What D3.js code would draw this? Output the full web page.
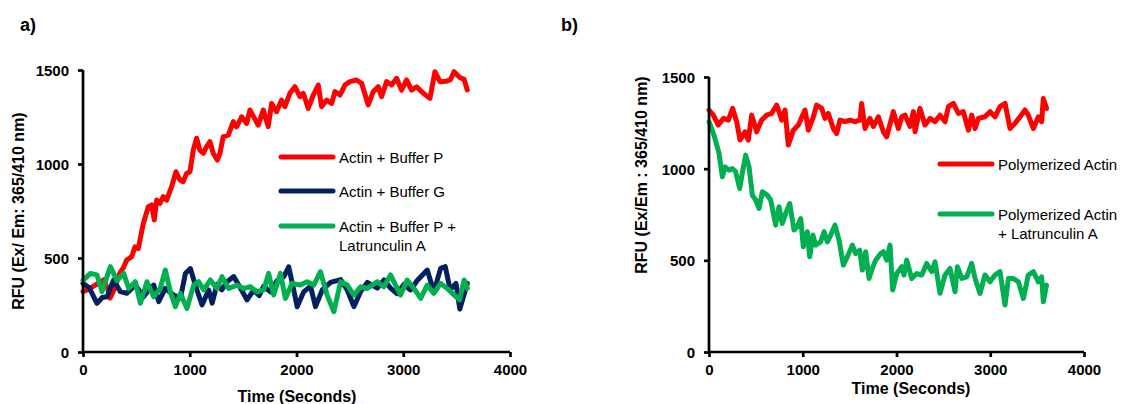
<!DOCTYPE html>
<html>
<head>
<meta charset="utf-8">
<script src="https://cdn.jsdelivr.net/npm/d3@7/dist/d3.min.js"></script>
<style>
  html, body { margin: 0; padding: 0; background: #fff; }
  svg { display: block; font-family: "Liberation Sans", Arial, sans-serif; }
</style>
</head>
<body>
<svg id="chart" width="1126" height="404"></svg>
<script>
// ---------- DATA ----------
const xTicks = [0, 1000, 2000, 3000, 4000];
const yTicks = [0, 500, 1000, 1500];

// Panel a) Actin + Buffer P
const aRedT = [0,40,100,190,230,253,290,346,380,409,456,487,518,565,612,643,668,690,721,752,783,830,871,908,939,970,1002,1033,1064,1095,1127,1158,1189,1220,1258,1283,1314,1361,1408,1439,1486,1533,1564,1641,1689,1735,1767,1813,1860,1891,1938,1985,2032,2063,2110,2157,2204,2235,2282,2329,2360,2407,2454,2500,2563,2610,2672,2719,2766,2797,2844,2891,2938,2984,3031,3078,3125,3188,3250,3297,3344,3400,3440,3476,3530,3570,3600];
const aRedV = [321,330,350,383,340,287,330,420,450,489,507,559,550,684,773,782,702,808,791,826,808,879,959,915,906,950,959,1074,1137,1074,1057,1092,1119,1057,1021,1057,1145,1154,1225,1198,1251,1216,1287,1207,1287,1199,1322,1278,1340,1305,1376,1411,1358,1376,1296,1367,1420,1305,1340,1322,1385,1367,1420,1438,1447,1429,1314,1385,1411,1358,1438,1420,1456,1393,1447,1393,1411,1376,1349,1491,1438,1440,1447,1491,1460,1450,1394];

// Panel a) Actin + Buffer G
const aBlueT = [0,60,131,180,225,287,350,412,490,568,615,662,709,771,849,912,959,1006,1052,1115,1177,1210,1255,1300,1349,1412,1474,1537,1599,1650,1693,1755,1818,1880,1927,1974,2006,2068,2131,2178,2241,2319,2413,2475,2538,2600,2663,2757,2819,2881,2944,3006,3069,3131,3225,3287,3350,3394,3440,3494,3530,3600];
const aBlueV = [365,340,259,290,294,383,321,312,356,294,330,356,268,338,303,285,418,444,356,250,330,260,360,330,374,401,340,277,330,300,350,320,380,400,453,330,241,320,350,241,330,370,385,330,241,320,370,340,383,340,310,360,330,380,436,320,445,454,330,365,228,365];

// Panel a) Actin + Buffer P + Latrunculin A
const aGreenT = [0,69,131,178,256,319,381,428,490,537,599,662,724,771,818,865,912,974,1037,1084,1130,1193,1255,1302,1365,1443,1505,1568,1630,1693,1739,1786,1849,1896,1958,2037,2099,2162,2224,2287,2350,2413,2475,2538,2600,2663,2757,2819,2881,2928,2975,3037,3100,3163,3225,3287,3350,3412,3460,3527,3570,3600];
const aGreenV = [380,418,410,321,454,380,418,338,374,259,374,294,338,436,321,241,312,232,356,374,330,383,338,401,338,356,338,347,320,330,418,303,418,285,365,356,374,356,427,303,214,374,356,303,347,338,374,347,410,356,303,383,338,285,356,312,365,338,312,277,383,339];

// Panel b) Polymerized Actin
const bRedT = [0,46,99,153,206,252,295,331,384,419,455,508,562,615,668,722,775,811,846,900,953,1024,1060,1113,1148,1202,1237,1273,1326,1362,1397,1451,1504,1557,1611,1628,1664,1717,1753,1806,1860,1895,1966,2020,2056,2091,2144,2180,2198,2251,2304,2358,2411,2464,2518,2553,2607,2660,2713,2767,2802,2838,2873,2944,2998,3051,3104,3158,3211,3264,3318,3371,3406,3460,3513,3548,3566,3600];
const bRedV = [1320,1292,1238,1274,1265,1329,1256,1156,1201,1156,1292,1201,1265,1292,1301,1347,1265,1320,1129,1210,1238,1320,1210,1283,1347,1329,1274,1301,1219,1192,1265,1256,1265,1256,1265,1356,1219,1274,1230,1283,1201,1174,1311,1219,1283,1292,1230,1311,1201,1329,1238,1274,1256,1292,1256,1338,1356,1301,1311,1210,1292,1219,1274,1283,1311,1283,1338,1356,1219,1247,1283,1320,1292,1219,1283,1256,1383,1329];

// Panel b) Polymerized Actin + Latrunculin A
const bGreenT = [0,53,107,142,171,213,249,284,327,355,391,427,462,498,533,569,622,658,711,747,782,818,861,907,942,978,1006,1049,1074,1109,1138,1191,1227,1262,1298,1344,1387,1433,1476,1529,1564,1607,1636,1671,1707,1742,1778,1831,1860,1895,1931,1959,2002,2056,2080,2109,2162,2216,2269,2322,2376,2411,2464,2518,2571,2624,2649,2696,2749,2802,2838,2891,2944,2998,3051,3104,3158,3193,3246,3300,3353,3406,3460,3513,3548,3566,3600];
const bGreenV = [1256,1183,1083,956,1010,992,1001,983,892,974,1074,1010,856,829,783,874,856,829,692,792,701,756,810,665,683,728,574,656,519,638,583,601,656,601,638,692,610,474,520,583,537,556,447,547,401,456,501,537,547,501,583,338,428,465,420,501,401,428,420,483,438,492,320,420,456,329,465,401,410,483,401,320,420,383,420,438,256,401,401,383,292,420,438,383,410,274,365];

// ---------- LAYOUT ----------
const svg = d3.select("#chart");
const AXIS_W = 2.7;
const FONT = '"Liberation Sans", Arial, sans-serif';

function panel(cfg) {
  const x = d3.scaleLinear().domain([0, 4000]).range([cfg.x0, cfg.x1]);
  const y = d3.scaleLinear().domain([0, 1500]).range([cfg.y0, cfg.y1]);
  const g = svg.append("g");

  const line = d3.line().x(d => x(d[0])).y(d => y(d[1])).curve(d3.curveLinear);
  cfg.series.forEach(s => {
    const data = s.t.map((t, i) => [t, s.v[i]]);
    g.append("path").datum(data)
      .attr("d", line)
      .attr("fill", "none")
      .attr("stroke", s.color)
      .attr("stroke-width", 5)
      .attr("stroke-linejoin", "round")
      .attr("stroke-linecap", "round");
  });

  const xAxis = d3.axisBottom(x).tickValues(xTicks).tickSize(5).tickPadding(7).tickFormat(d3.format("d"));
  const yAxis = d3.axisLeft(y).tickValues(yTicks).tickSize(5).tickPadding(9).tickFormat(d3.format("d"));
  const gx = g.append("g").attr("transform", `translate(0,${cfg.y0})`).call(xAxis);
  const gy = g.append("g").attr("transform", `translate(${cfg.x0},0)`).call(yAxis);
  [gx, gy].forEach(ax => {
    ax.select(".domain").attr("stroke", "#000").attr("stroke-width", AXIS_W);
    ax.selectAll(".tick line").attr("stroke", "#000").attr("stroke-width", AXIS_W);
    ax.selectAll(".tick text").attr("fill", "#000")
      .style("font-size", "15px").style("font-weight", "bold")
      .style("font-family", FONT);
  });
  gx.select(".domain").attr("d", `M${cfg.x0},0H${cfg.x1}`);
  gy.select(".domain").attr("d", `M0,${cfg.y0}V${cfg.y1}`);
  gy.selectAll(".tick text").attr("dy", "0.36em");

  g.append("text").attr("x", cfg.labelX).attr("y", 31)
    .style("font-size", "18px").style("font-weight", "bold").text(cfg.label);
  g.append("text").attr("x", cfg.xTitleX).attr("y", cfg.xTitleY)
    .attr("text-anchor", "middle")
    .style("font-size", "16px").style("font-weight", "bold").text("Time (Seconds)");
  g.append("text")
    .attr("transform", `translate(${cfg.yTitleX},${cfg.yTitleY}) rotate(-90)`)
    .attr("text-anchor", "middle")
    .style("font-size", "16px").style("font-weight", "bold").text(cfg.yTitle);

  cfg.legend.forEach(l => {
    g.append("line").attr("x1", cfg.legX).attr("x2", cfg.legX + 52)
      .attr("y1", l.y).attr("y2", l.y)
      .attr("stroke", l.color).attr("stroke-width", 5).attr("stroke-linecap", "round");
    l.lines.forEach((txt, i) => {
      g.append("text").attr("x", cfg.legX + 58).attr("y", l.y + 5.5 + i * 19)
        .style("font-size", "15px").text(txt);
    });
  });
}

const RED = "#FF0000", NAVY = "#002060", GREEN = "#00B050";

panel({
  x0: 83, x1: 510, y0: 352, y1: 70,
  label: "a)", labelX: 20,
  xTitleX: 297, xTitleY: 402,
  yTitle: "RFU (Ex/ Em: 365/410 nm)", yTitleX: 24, yTitleY: 211,
  series: [
    { t: aRedT, v: aRedV, color: RED },
    { t: aBlueT, v: aBlueV, color: NAVY },
    { t: aGreenT, v: aGreenV, color: GREEN }
  ],
  legX: 281,
  legend: [
    { y: 157, color: RED, lines: ["Actin + Buffer P"] },
    { y: 191, color: NAVY, lines: ["Actin + Buffer G"] },
    { y: 226, color: GREEN, lines: ["Actin + Buffer P +", "Latrunculin A"] }
  ]
});

panel({
  x0: 709, x1: 1084, y0: 352, y1: 77,
  label: "b)", labelX: 561,
  xTitleX: 911, xTitleY: 394,
  yTitle: "RFU (Ex/Em : 365/410 nm)", yTitleX: 647, yTitleY: 175,
  series: [
    { t: bRedT, v: bRedV, color: RED },
    { t: bGreenT, v: bGreenV, color: GREEN }
  ],
  legX: 940,
  legend: [
    { y: 164, color: RED, lines: ["Polymerized Actin"] },
    { y: 214, color: GREEN, lines: ["Polymerized Actin", "+ Latrunculin A"] }
  ]
});
</script>
</body>
</html>
